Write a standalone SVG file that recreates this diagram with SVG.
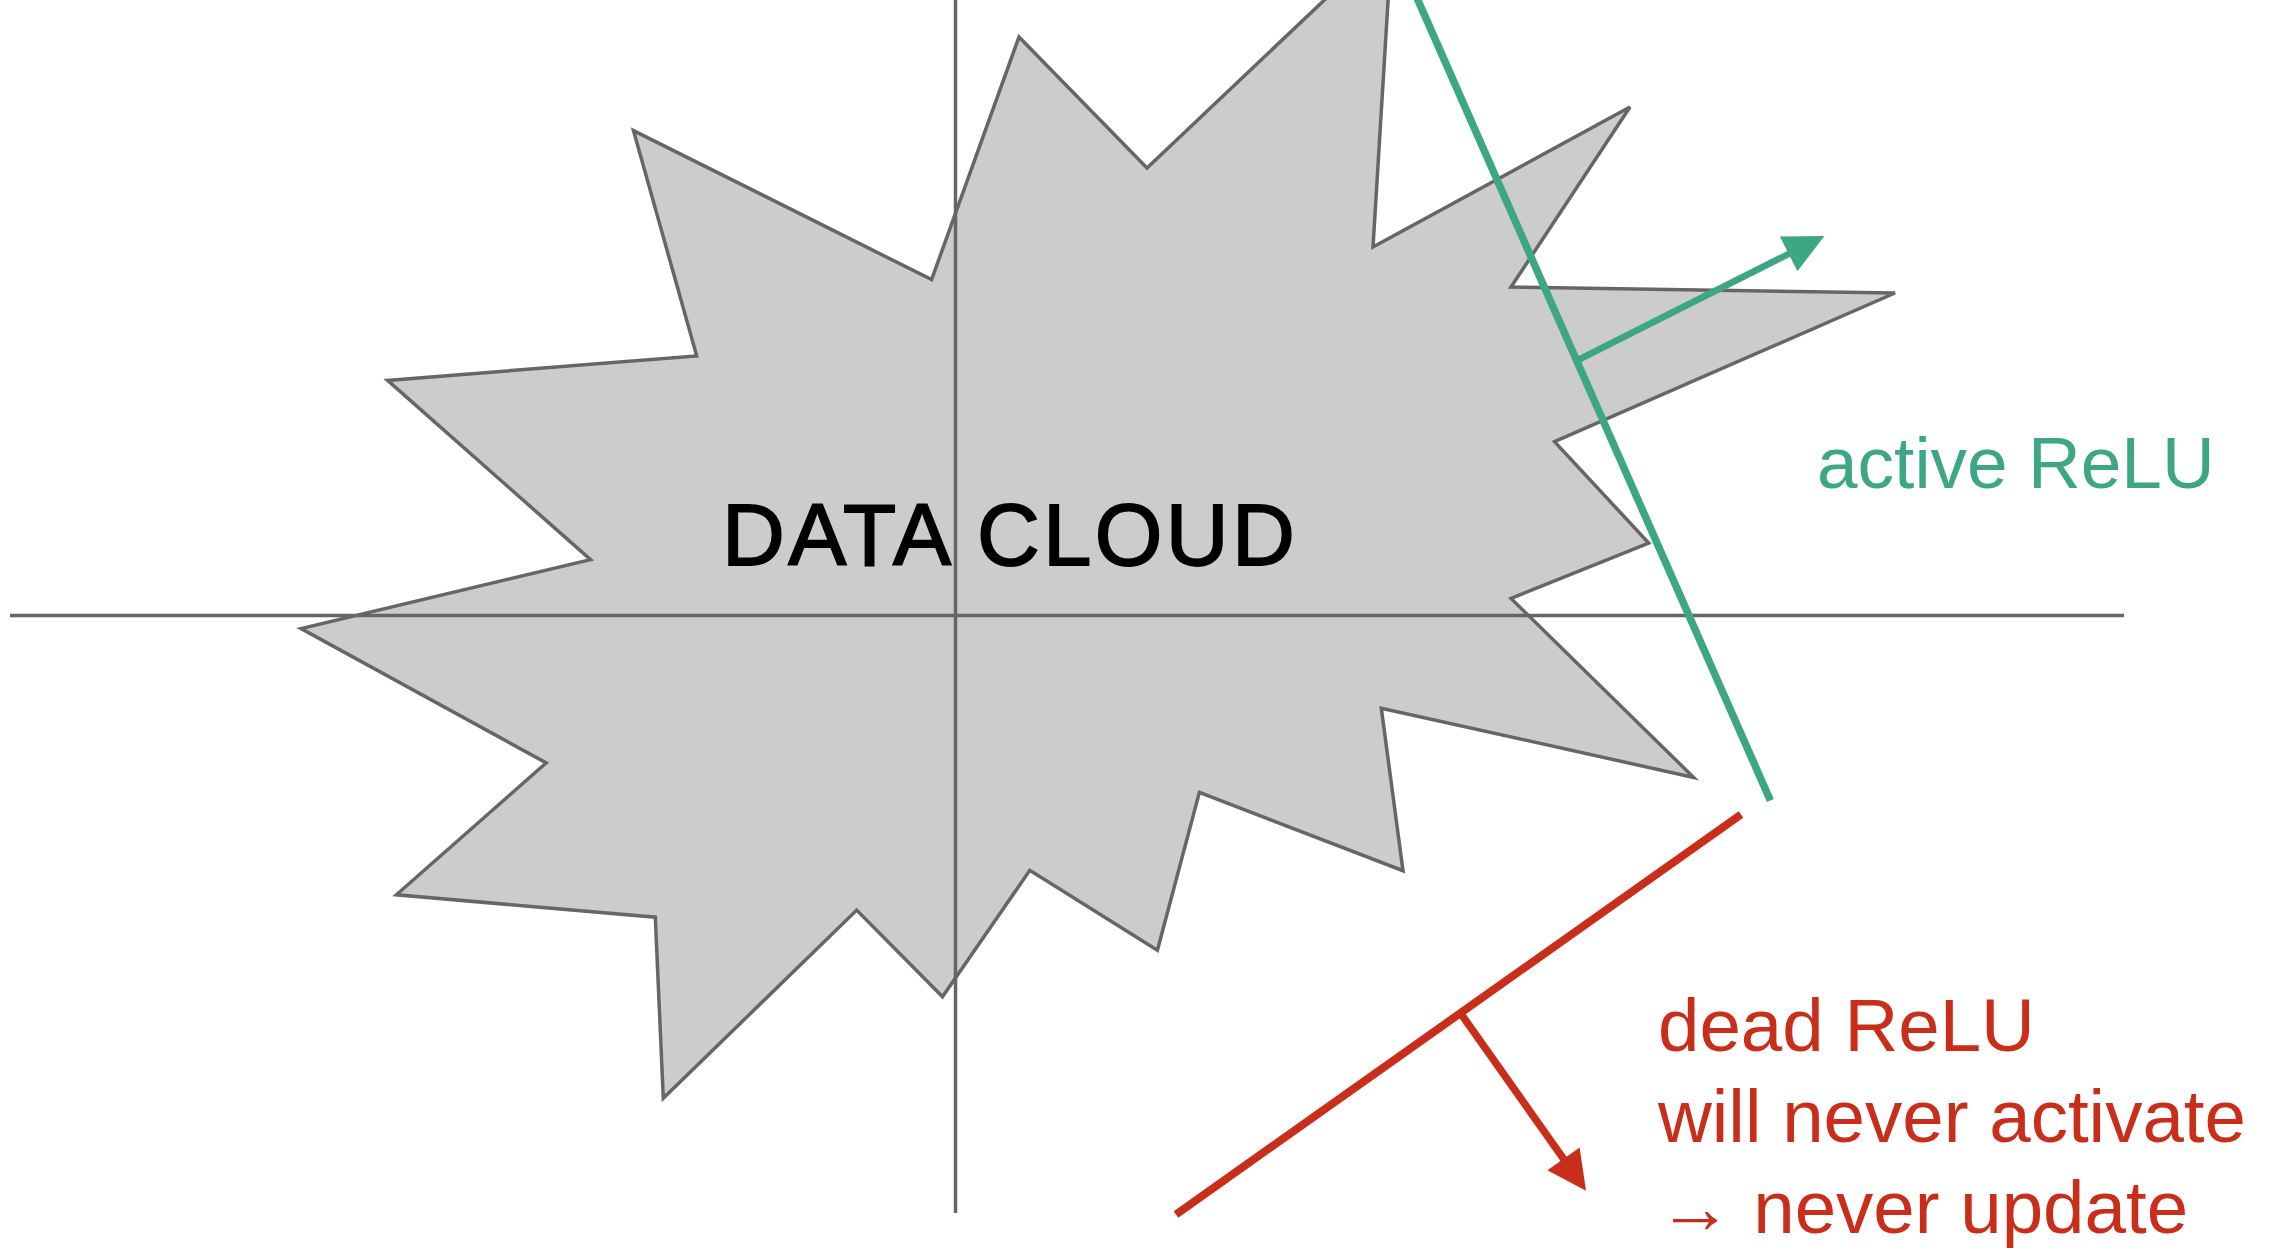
<svg xmlns="http://www.w3.org/2000/svg" width="2276" height="1250" viewBox="0 0 2276 1250">
<style>
.axis{stroke:#666;stroke-width:3.5;fill:none}
.cloud{fill:#cccccc;stroke:#666;stroke-width:3.5;stroke-linejoin:miter}
.title{font-family:"Liberation Sans",Arial,sans-serif;font-size:87px;letter-spacing:3.3px;fill:#000;stroke:#000;stroke-width:1.8}
.lbl{font-family:"Liberation Sans",Arial,sans-serif;font-size:73px}
.dead{font-size:74.5px;fill:#c92e1b}
.green{stroke:#3da682;fill:none}
.red{stroke:#c92e1b;fill:none}
</style>
<defs>
<marker id="headG" markerUnits="userSpaceOnUse" orient="auto" refX="0" refY="0" markerWidth="60" markerHeight="60" overflow="visible">
<path d="M30,0 L-10,-19.5 L-10,19.5 Z" fill="#3da682"/>
</marker>
<marker id="headR" markerUnits="userSpaceOnUse" orient="auto" refX="0" refY="0" markerWidth="60" markerHeight="60" overflow="visible">
<path d="M30,0 L-9,-19.7 L-9,19.7 Z" fill="#c92e1b"/>
</marker>
</defs>
<rect width="2276" height="1250" fill="#fff"/>
<g id="data-cloud">
<polygon class="cloud" points="1019,37 1147,168 1392,-64 1373,247 1630,107 1511,287 1895,293 1554.5,441.6 1648.7,543 1511,598.4 1693.6,777.4 1381.3,708.2 1403,870.7 1199.4,792.4 1157.4,950.3 1029.8,870.3 942.5,996.8 856.7,910.1 663.3,1098.3 655.3,917.2 396.4,894.8 546.2,762.9 301.1,628.6 590.5,559.6 387.6,380.4 696.7,355.9 633.5,130.6 931.6,279.6"/>
<text class="title" x="722" y="565">DATA CLOUD</text>
</g>
<g id="axes">
<line class="axis" x1="10" y1="615.5" x2="2124" y2="615.5"/>
<line class="axis" x1="955.5" y1="0" x2="955.5" y2="1213"/>
</g>
<g id="connectors">
<line class="green" stroke-width="7.5" x1="1417" y1="-2" x2="1770.4" y2="800.5"/>
<line class="green" stroke-width="6.5" x1="1576" y1="361" x2="1797.6" y2="249.4" marker-end="url(#headG)"/>
<line class="red" stroke-width="8" x1="1176" y1="1214.4" x2="1741" y2="814.5"/>
<line class="red" stroke-width="7.5" x1="1461" y1="1013.8" x2="1568.7" y2="1166.2" marker-end="url(#headR)"/>
</g>
<g id="active-label">
<text class="lbl" x="1817" y="488" fill="#3da682">active ReLU</text>
</g>
<g id="dead-label">
<text class="lbl dead" x="1658" y="1051">dead ReLU</text>
<text class="lbl dead" x="1658" y="1142">will never activate</text>
<text class="lbl dead" x="1658" y="1233">→ never update</text>
</g>
</svg>
